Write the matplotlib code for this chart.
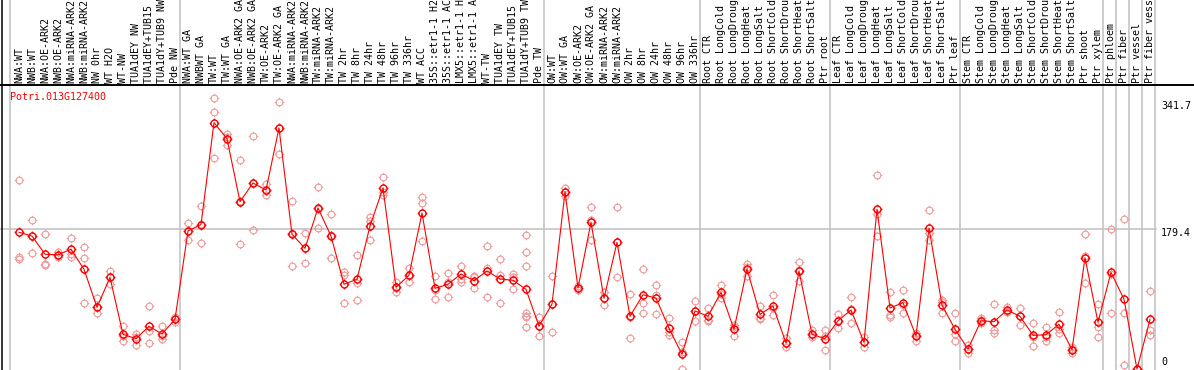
import numpy as np
import matplotlib
matplotlib.use('Agg')
import matplotlib.pyplot as plt
from matplotlib.path import Path
from matplotlib.lines import Line2D

gene = "Potri.013G127400"

labels = [
    "NWA:WT", "NWB:WT", "NWA:OE-ARK2", "NWB:OE-ARK2", "NWA:miRNA-ARK2", "NWB:miRNA-ARK2",
    "NW 0hr", "WT H2O", "WT-NW", "TUA1dEY NW", "TUA1dEY+TUB15 ", "TUA1dY+TUB9 NW", "Pde NW",
    "NWA:WT GA", "NWBWT GA", "TW:WT", "TW:WT GA", "NWA:OE-ARK2 GA", "NWB:OE-ARK2 GA",
    "TW:OE-ARK2", "TW:OE-ARK2 GA", "NWA:miRNA-ARK2", "NWB:miRNA-ARK2", "TW:miRNA-ARK2",
    "TW:miRNA-ARK2", "TW 2hr", "TW 8hr", "TW 24hr", "TW 48hr", "TW 96hr", "TW 336hr",
    "WT ACC", "35S::etr1-1 H2", "35S::etr1-1 AC", "LMX5::etr1-1 H", "LMX5::etr1-1 A",
    "WT-TW", "TUA1dEY TW", "TUA1dEY+TUB15 ", "TUA1dY+TUB9 TW", "Pde TW",
    "OW:WT", "OW:WT GA", "OW:OE-ARK2", "OW:OE-ARK2 GA", "OW:miRNA-ARK2", "OW:miRNA-ARK2",
    "OW 2hr", "OW 8hr", "OW 24hr", "OW 48hr", "OW 96hr", "OW 336hr",
    "Root CTR", "Root LongCold", "Root LongDroug", "Root LongHeat", "Root LongSalt",
    "Root ShortCold", "Root ShortDrou", "Root ShortHeat", "Root ShortSalt", "Ptr root",
    "Leaf CTR", "Leaf LongCold", "Leaf LongDroug", "Leaf LongHeat", "Leaf LongSalt",
    "Leaf ShortCold", "Leaf ShortDrou", "Leaf ShortHeat", "Leaf ShortSalt", "Ptr leaf",
    "Stem CTR", "Stem LongCold", "Stem LongDroug", "Stem LongHeat", "Stem LongSalt",
    "Stem ShortCold", "Stem ShortDrou", "Stem ShortHeat", "Stem ShortSalt",
    "Ptr shoot", "Ptr xylem", "Ptr phloem", "Ptr fiber", "Ptr vessel", "Ptr fiber vess",
]

means = [
    175.0, 170.3, 146.9, 146.3, 153.3, 127.7, 79.0, 117.4, 44.4, 38.8, 54.7, 44.8, 63.6,
    176.7, 185.0, 315.4, 294.9, 214.2, 238.2, 229.2, 308.6, 172.5, 154.5, 206.1, 170.3,
    108.5, 114.9, 183.1, 231.8, 104.6, 120.0, 199.7, 103.3, 108.5, 121.6, 113.1, 125.5,
    115.2, 113.6, 102.0, 54.7, 83.2, 226.6, 103.7, 187.8, 90.5, 162.2, 67.5, 95.1, 90.9,
    52.1, 18.8, 74.3, 67.5, 98.2, 50.8, 128.0, 70.0, 80.7, 33.3, 125.5, 44.4, 38.8,
    61.8, 75.5, 34.2, 204.5, 78.1, 84.9, 42.3, 180.5, 81.9, 50.8, 25.6, 61.8, 60.6,
    75.5, 67.5, 43.1, 43.9, 57.2, 24.7, 142.5, 59.8, 123.8, 89.2, 0.0, 63.6,
]

reps = [
    [241.6, 143.8, 140.5], [190.8, 170.3, 148.5], [172.5, 134.4, 133.2], [150.4, 146.0, 143.4],
    [167.7, 146.9, 143.8], [156.2, 142.1, 84.5], [90.5, 79.0, 71.3], [125.9, 117.4, 108.8],
    [55.1, 42.3, 35.9], [44.8, 41.0, 30.7], [80.3, 48.7, 32.9], [54.7, 42.3, 38.0],
    [66.6, 64.0, 60.2], [186.9, 176.7, 165.2], [208.7, 185.7, 161.3], [346.6, 329.1, 269.8],
    [300.9, 297.1, 286.8], [267.6, 215.1, 160.1], [298.3, 238.2, 178.0], [236.9, 227.9, 222.8],
    [341.9, 308.6, 275.3], [215.1, 173.8, 131.9], [174.1, 154.9, 135.7], [233.0, 204.9, 180.5],
    [198.5, 171.6, 142.1], [124.6, 120.4, 84.1], [146.0, 109.7, 88.3], [194.6, 189.5, 165.2],
    [245.8, 226.6, 222.8], [111.4, 103.7, 98.6], [129.3, 119.1, 111.4], [220.2, 212.5, 163.9],
    [119.1, 101.2, 89.6], [122.9, 111.4, 92.2], [131.9, 115.2, 111.4], [119.1, 117.8, 103.7],
    [157.5, 129.3, 92.2], [140.8, 120.4, 84.5], [121.6, 117.8, 102.4],
    [171.6, 149.8, 131.9, 71.7, 67.9, 66.6, 53.8],
    [66.6, 55.1, 42.3], [119.1, 83.2, 47.4], [231.8, 226.6, 221.5], [106.3, 103.7, 101.2],
    [207.4, 190.8, 165.2], [98.6, 90.9, 81.9], [207.0, 162.0, 118.0], [96.0, 66.6, 39.7],
    [127.7, 84.9, 72.1], [107.6, 94.7, 70.4], [65.3, 47.4, 43.5], [34.6, 21.8, 0.0],
    [87.1, 74.3, 61.5], [78.1, 62.7, 61.5], [107.6, 96.0, 90.9], [56.3, 53.8, 42.3],
    [134.4, 130.6, 119.1], [80.7, 65.3, 64.0], [94.7, 78.1, 69.1], [39.7, 33.3, 28.2],
    [137.0, 126.8, 112.7], [49.9, 43.5, 40.6], [49.9, 42.3, 24.3], [70.4, 62.7, 52.5],
    [92.2, 76.8, 58.9], [41.0, 34.6, 28.2], [248.4, 198.5, 170.3], [98.6, 69.1, 66.6],
    [101.2, 81.9, 71.7], [46.1, 43.5, 35.9], [203.2, 173.8, 165.2], [88.3, 85.8, 71.7],
    [71.7, 44.8, 35.9], [30.7, 25.6, 20.5], [65.3, 62.7, 58.9], [83.2, 49.9, 46.1],
    [79.4, 74.3, 73.0], [78.1, 67.9, 56.3], [58.9, 41.0, 29.4], [53.8, 41.0, 35.9],
    [73.0, 51.2, 46.1], [28.2, 25.6, 20.5], [172.9, 144.7, 110.1], [83.2, 53.8, 41.0],
    [179.3, 121.6, 71.7], [191.7, 71.3, 5.1], [0.0, 0.0, 0.0], [99.9, 49.9, 43.5],
]

# last column of each group (1-based), grey separators drawn after them
group_ends = [13, 41, 53, 63, 73, 84, 85, 86, 87, 88]
ytick_vals = [341.7, 179.4, 0]

W, H = 1194, 370
x0, dx = 19, 13          # pixel of first column, column pitch
y_base, ppu = 369, 0.781  # pixel of zero, pixels per unit
top_px = 85

red = '#ff0000'
pale = '#f09a9a'
grey = '#c0c0c0'

fig = plt.figure(figsize=(W / 100, H / 100), dpi=100)
ax = fig.add_axes([0, 0, 1, (H - top_px) / H])
ax.set_xlim((0 - x0) / dx, (W - x0) / dx)
ax.set_ylim((y_base - H) / ppu, (y_base - top_px) / ppu)
ax.set_xticks([])
ax.set_yticks([])
for s in ['left', 'right', 'bottom']:
    ax.spines[s].set_visible(False)
ax.spines['top'].set_linewidth(1.4)

# marker: open circle with four little ticks
circ = Path.unit_circle()
ticks = Path([(0, 1), (0, 1.4), (0, -1), (0, -1.4), (1, 0), (1.4, 0), (-1, 0), (-1.4, 0)],
             [Path.MOVETO, Path.LINETO] * 4)
mk = Path.make_compound_path(circ, ticks)

# grey grid
sep_x = [-0.69] + [e - 1 + 0.38 for e in group_ends]
for sx in sep_x:
    ax.axvline(sx, 0, H / (H - top_px), color=grey, lw=1.1, clip_on=False, zorder=0)
ax.axhline(179.4, xmax=(1156) / W, color=grey, lw=1.1, zorder=0)

xs = np.arange(len(means))
for i, r in enumerate(reps):
    ax.plot([i] * len(r), r, ls='none', marker=mk, ms=6.8, mfc='none',
            mec=pale, mew=0.8, zorder=2, clip_on=True)

ax.plot(xs, means, color=red, lw=0.8, marker=mk, ms=7.0, mfc='none',
        mec=red, mew=1.0, zorder=3)

mono = 'DejaVu Sans Mono'
ax.text(10 / W, (H - 97) / (H - top_px) - 0.0, gene, transform=ax.transAxes,
        color=red, fontsize=7.2, family=mono, ha='left', va='center')

for v in ytick_vals:
    yp = y_base - v * ppu
    yp = min(yp + 4, 362)
    ax.text(1161 / W, (H - yp) / (H - top_px), ('%g' % v) if v == 0 else '%.1f' % v,
            transform=ax.transAxes, fontsize=7.2, family=mono, ha='left', va='center')

# sample names above the plot
for i, lab in enumerate(labels):
    fig.text((x0 + dx * i) / W, (H - 83) / H, lab, rotation=90, ha='center', va='bottom',
             fontsize=7.2, family=mono)

fig.add_artist(Line2D([1.5 / W, 1.5 / W], [0, 1], color='black', lw=1.1))

fig.savefig('out.png', dpi=100)
